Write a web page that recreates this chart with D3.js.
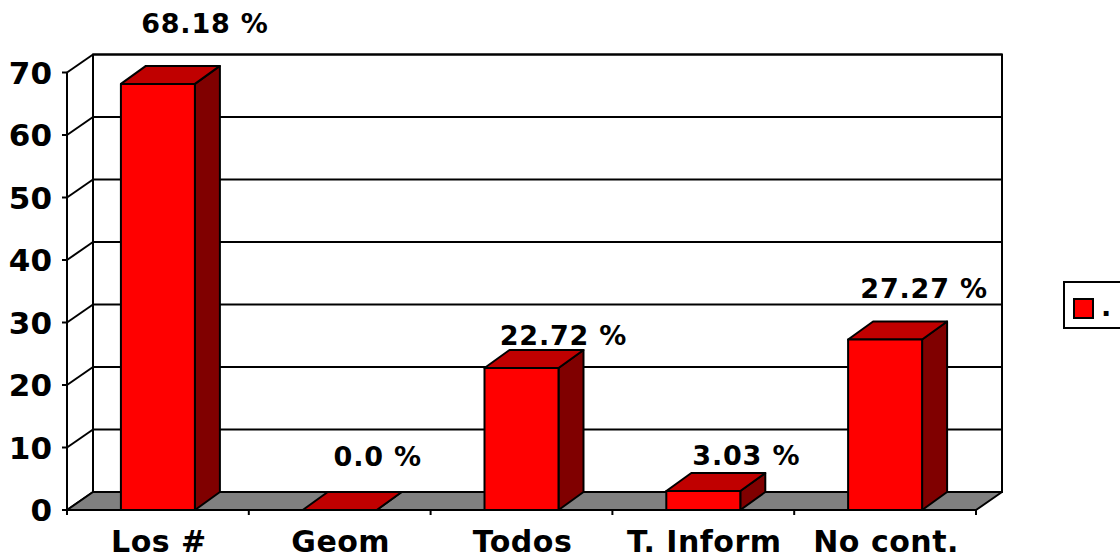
<!DOCTYPE html>
<html><head><meta charset="utf-8">
<script src="https://cdn.jsdelivr.net/npm/d3@7/dist/d3.min.js"></script>
<style>
html,body{margin:0;padding:0;background:#fff;}
text{font-family:"DejaVu Sans",Verdana,sans-serif;font-weight:bold;fill:#000;}
</style></head>
<body>
<svg id="chart" width="1120" height="558"></svg>
<script>
// ---- data ----
const categories = ["Los #", "Geom", "Todos", "T. Inform", "No cont."];
const values = [68.18, 0.0, 22.72, 3.03, 27.27];
const valueLabels = ["68.18 %", "0.0 %", "22.72 %", "3.03 %", "27.27 %"];
const yTicks = [0, 10, 20, 30, 40, 50, 60, 70];
const legendLabels = ["."];

// ---- layout (not data) ----
const labelNudge = [[47, 33], [38, 26], [42, 5], [43, 8], [39, 24]]; // [dx from band centre, lift above bar back-top]
const plotL = 67, plotR = 976, plotB = 510, plotT = 72.5;
const depthX = 26, depthY = 18;     // wall depth
const barDX = 25, barDY = 18;       // bar depth
const cFront = "#ff0000", cTop = "#c00000", cSide = "#800000", cFloor = "#808080";

const svg = d3.select("#chart");
const x = d3.scaleBand().domain(categories).range([plotL, plotR]).paddingInner(0.593).paddingOuter(0.2965);
const y = d3.scaleLinear().domain([0, 70]).range([plotB, plotT]);
const sw = 2;

// back wall
svg.append("rect").attr("x", plotL + depthX).attr("y", y(70) - depthY)
  .attr("width", plotR - plotL).attr("height", y(0) - y(70))
  .attr("fill", "#fff").attr("stroke", "#000").attr("stroke-width", sw);

// gridlines on back wall and left wall
const g = svg.append("g").attr("stroke", "#000").attr("stroke-width", sw).attr("fill", "none");
yTicks.forEach(t => {
  g.append("line").attr("x1", plotL + depthX).attr("x2", plotR + depthX)
    .attr("y1", y(t) - depthY).attr("y2", y(t) - depthY);
  g.append("line").attr("x1", plotL).attr("x2", plotL + depthX)
    .attr("y1", y(t)).attr("y2", y(t) - depthY);
});
g.append("line").attr("x1", plotL + depthX).attr("x2", plotL + depthX)
  .attr("y1", y(70) - depthY).attr("y2", y(0) - depthY);

// floor
svg.append("path")
  .attr("d", `M${plotL},${y(0)}L${plotR},${y(0)}L${plotR + depthX},${y(0) - depthY}L${plotL + depthX},${y(0) - depthY}Z`)
  .attr("fill", cFloor).attr("stroke", "#000").attr("stroke-width", sw).attr("stroke-linejoin", "round");

// bars
const bars = svg.append("g").attr("stroke", "#000").attr("stroke-width", sw).attr("stroke-linejoin", "round");
categories.forEach((c, i) => {
  const x0 = x(c), x1 = x(c) + x.bandwidth();
  const y0 = y(0), y1 = y(values[i]);
  bars.append("path").attr("fill", cSide)
    .attr("d", `M${x1},${y0}L${x1 + barDX},${y0 - barDY}L${x1 + barDX},${y1 - barDY}L${x1},${y1}Z`);
  bars.append("path").attr("fill", cTop)
    .attr("d", `M${x0},${y1}L${x0 + barDX},${y1 - barDY}L${x1 + barDX},${y1 - barDY}L${x1},${y1}Z`);
  if (values[i] > 0)
    bars.append("rect").attr("x", x0).attr("y", y1).attr("width", x1 - x0).attr("height", y0 - y1).attr("fill", cFront);
});

// front axes
const ax = svg.append("g").attr("stroke", "#000").attr("stroke-width", sw);
ax.append("line").attr("x1", plotL).attr("x2", plotL).attr("y1", y(70)).attr("y2", y(0) + 5);
ax.append("line").attr("x1", plotL).attr("x2", plotR).attr("y1", y(0)).attr("y2", y(0));
yTicks.forEach(t => {
  ax.append("line").attr("x1", plotL - 5).attr("x2", plotL).attr("y1", y(t)).attr("y2", y(t));
});
const step = x.step();
for (let k = 0; k <= categories.length; k++) {
  const xx = plotL + k * step;
  ax.append("line").attr("x1", xx).attr("x2", xx).attr("y1", y(0)).attr("y2", y(0) + 5);
}

// y labels
svg.append("g").selectAll("text").data(yTicks).join("text")
  .attr("x", 52).attr("y", d => y(d)).attr("dy", "0.36em")
  .attr("text-anchor", "end").style("font-size", "31px").text(d => d);

// category labels
svg.append("g").selectAll("text").data(categories).join("text")
  .attr("x", d => x(d) + x.bandwidth() / 2 + 1).attr("y", 552)
  .attr("text-anchor", "middle").style("font-size", "30px").style("letter-spacing", "0.5px").text(d => d);

// value labels
svg.append("g").selectAll("text").data(valueLabels).join("text")
  .attr("x", (d, i) => x(categories[i]) + x.bandwidth() / 2 + labelNudge[i][0])
  .attr("y", (d, i) => y(values[i]) - barDY - labelNudge[i][1])
  .attr("text-anchor", "middle").style("font-size", "27px").style("letter-spacing", "0.8px").text(d => d);

// legend
const lg = svg.append("g");
lg.append("rect").attr("x", 1064).attr("y", 282).attr("width", 80).attr("height", 46)
  .attr("fill", "#fff").attr("stroke", "#000").attr("stroke-width", sw);
legendLabels.forEach((l, i) => {
  lg.append("rect").attr("x", 1074).attr("y", 299 + i * 30).attr("width", 19).attr("height", 19)
    .attr("fill", cFront).attr("stroke", "#000").attr("stroke-width", sw);
  lg.append("text").attr("x", 1101).attr("y", 316 + i * 30).style("font-size", "27px").text(l);
});
</script>
</body></html>
